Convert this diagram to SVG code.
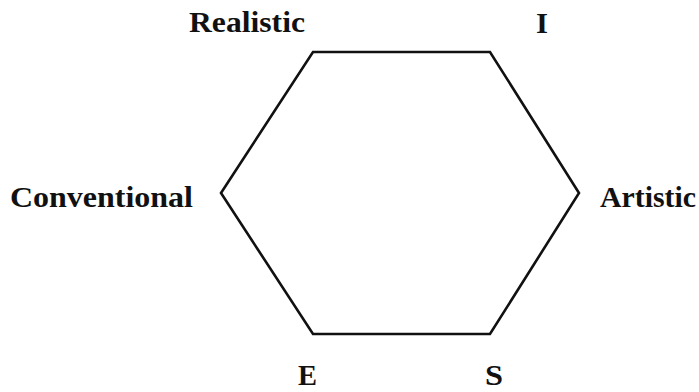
<svg xmlns="http://www.w3.org/2000/svg" width="699" height="392" viewBox="0 0 699 392">
<style>
text{font-family:"Liberation Serif","Times New Roman",serif;font-weight:bold;font-size:30px;fill:#111}
.hex{fill:none;stroke:#111;stroke-width:2.6;stroke-linejoin:miter}
</style>
<rect width="699" height="392" fill="#fff"/>
<g id="hexagon"><polygon class="hex" points="313,52 490,52 579,193 490,334 313,334 221,193"/></g>
<g id="realistic"><text x="189" y="32" textLength="116" lengthAdjust="spacingAndGlyphs">Realistic</text></g>
<g id="investigative"><text x="536" y="33" textLength="12" lengthAdjust="spacingAndGlyphs">I</text></g>
<g id="conventional"><text x="10" y="207" textLength="183" lengthAdjust="spacingAndGlyphs">Conventional</text></g>
<g id="artistic"><text x="600" y="207" textLength="96" lengthAdjust="spacingAndGlyphs">Artistic</text></g>
<g id="enterprising"><text x="298" y="385" textLength="19" lengthAdjust="spacingAndGlyphs">E</text></g>
<g id="social"><text x="485" y="385" textLength="18" lengthAdjust="spacingAndGlyphs">S</text></g>
</svg>
